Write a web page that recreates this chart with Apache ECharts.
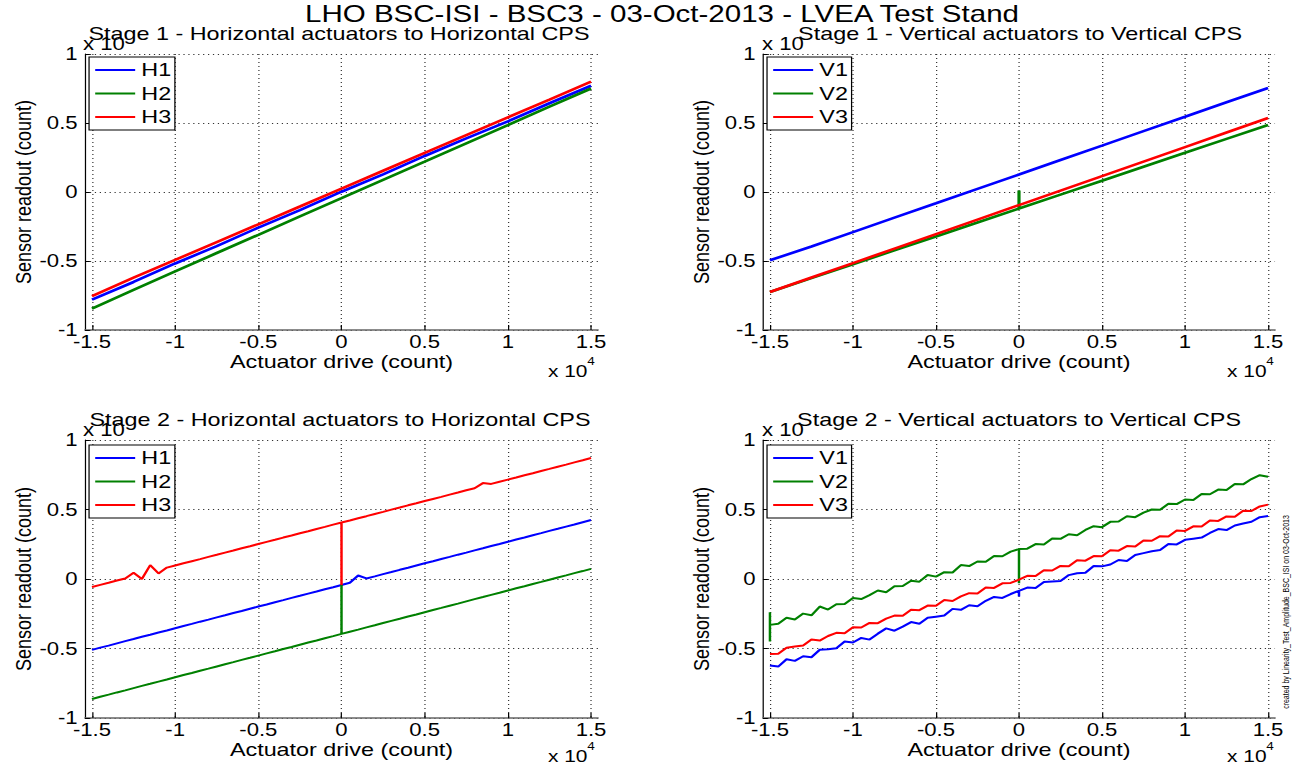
<!DOCTYPE html>
<html>
<head>
<meta charset="utf-8">
<script src="https://cdn.jsdelivr.net/npm/echarts@6/dist/echarts.min.js"></script>
<style>
html,body{margin:0;padding:0;background:#fff;overflow:hidden;}
#wrap{width:1295px;height:769px;overflow:hidden;}
#chart{width:1053px;height:769px;transform:scaleX(1.23);transform-origin:0 0;}
</style>
</head>
<body>
<div id="wrap"><div id="chart"></div></div>
<script>
// ---------- DATA ----------
const mainTitle = 'LHO BSC-ISI - BSC3 - 03-Oct-2013 - LVEA Test Stand';
const panelTitles = [
  'Stage 1 - Horizontal actuators to Horizontal CPS',
  'Stage 1 - Vertical actuators to Vertical CPS',
  'Stage 2 - Horizontal actuators to Horizontal CPS',
  'Stage 2 - Vertical actuators to Vertical CPS'
];
const xAxisName = 'Actuator drive (count)';
const yAxisName = 'Sensor readout (count)';
const creditText = 'created by Linearity_Test_Amplitude_BSC_ISI on 03-Oct-2013';

const xTickValues = [-15000, -10000, -5000, 0, 5000, 10000, 15000];
const xTickLabels = ['-1.5', '-1', '-0.5', '0', '0.5', '1', '1.5'];
const yTickLabels = {'-1': '-1', '-0.5': '-0.5', '0': '0', '0.5': '0.5', '1': '1'};

// drive grid for Stage 1 (step 2500)
const drive13 = [-15000, -12500, -10000, -7500, -5000, -2500, 0, 2500, 5000, 7500, 10000, 12500, 15000];
// drive grid for Stage 2 (step 500)
const drive61 = [-15000, -14500, -14000, -13500, -13000, -12500, -12000, -11500, -11000, -10500,
  -10000, -9500, -9000, -8500, -8000, -7500, -7000, -6500, -6000, -5500,
  -5000, -4500, -4000, -3500, -3000, -2500, -2000, -1500, -1000, -500,
  0, 500, 1000, 1500, 2000, 2500, 3000, 3500, 4000, 4500,
  5000, 5500, 6000, 6500, 7000, 7500, 8000, 8500, 9000, 9500,
  10000, 10500, 11000, 11500, 12000, 12500, 13000, 13500, 14000, 14500, 15000];

// Stage 1 horizontal
const s1H1 = [-0.780, -0.652, -0.518, -0.392, -0.258, -0.131, 0.002, 0.128, 0.261, 0.388, 0.512, 0.643, 0.770];
const s1H2 = [-0.845, -0.710, -0.575, -0.442, -0.310, -0.177, -0.045, 0.088, 0.220, 0.353, 0.485, 0.618, 0.750];
const s1H3 = [-0.755, -0.621, -0.492, -0.363, -0.234, -0.105, 0.025, 0.154, 0.283, 0.412, 0.541, 0.670, 0.800];
// Stage 1 vertical
const s1V1 = [-0.495, -0.395, -0.291, -0.186, -0.082, 0.023, 0.127, 0.232, 0.336, 0.441, 0.545, 0.650, 0.754];
const s1V2 = [-0.725, -0.624, -0.523, -0.423, -0.322, -0.221, -0.120, -0.019, 0.082, 0.183, 0.284, 0.385, 0.485];
const s1V3 = [-0.725, -0.620, -0.515, -0.410, -0.305, -0.200, -0.095, 0.010, 0.115, 0.220, 0.325, 0.431, 0.536];
const s1V2Spike = [[0, 0.01], [0, -0.12]];

// Stage 2 horizontal
const s2H1 = [-0.510, -0.494, -0.479, -0.463, -0.447, -0.432, -0.416, -0.401, -0.385, -0.370,
  -0.354, -0.338, -0.323, -0.307, -0.292, -0.276, -0.261, -0.245, -0.230, -0.214,
  -0.198, -0.183, -0.167, -0.152, -0.136, -0.121, -0.105, -0.090, -0.074, -0.059,
  -0.043, -0.027, 0.025, 0.004, 0.019, 0.035, 0.050, 0.066, 0.081, 0.097,
  0.113, 0.128, 0.144, 0.159, 0.175, 0.190, 0.206, 0.221, 0.237, 0.252,
  0.268, 0.284, 0.299, 0.315, 0.330, 0.346, 0.361, 0.377, 0.392, 0.408, 0.424];
const s2H2 = [-0.863, -0.847, -0.832, -0.816, -0.801, -0.785, -0.769, -0.754, -0.738, -0.723,
  -0.707, -0.691, -0.676, -0.660, -0.645, -0.629, -0.613, -0.598, -0.582, -0.567,
  -0.551, -0.535, -0.520, -0.504, -0.489, -0.473, -0.457, -0.442, -0.426, -0.411,
  -0.395, -0.379, -0.364, -0.348, -0.333, -0.317, -0.301, -0.286, -0.270, -0.255,
  -0.239, -0.223, -0.208, -0.192, -0.177, -0.161, -0.145, -0.130, -0.114, -0.099,
  -0.083, -0.067, -0.052, -0.036, -0.021, -0.005, 0.011, 0.026, 0.042, 0.057, 0.073];
const s2H3 = [-0.058, -0.042, -0.027, -0.011, 0.004, 0.045, 0.000, 0.100, 0.040, 0.082,
  0.097, 0.113, 0.128, 0.143, 0.159, 0.174, 0.190, 0.205, 0.221, 0.236,
  0.252, 0.267, 0.282, 0.298, 0.313, 0.329, 0.344, 0.360, 0.375, 0.391,
  0.406, 0.421, 0.437, 0.452, 0.468, 0.483, 0.499, 0.514, 0.530, 0.545,
  0.561, 0.576, 0.591, 0.607, 0.622, 0.638, 0.653, 0.690, 0.684, 0.700,
  0.715, 0.730, 0.746, 0.761, 0.777, 0.792, 0.808, 0.823, 0.839, 0.854, 0.870];
const s2H2Jump = [[0, -0.043], [0, -0.395]];
const s2H3Jump = [[0, -0.043], [0, 0.406]];

// Stage 2 vertical
const s2V1 = [-0.623, -0.630, -0.577, -0.589, -0.556, -0.563, -0.509, -0.506, -0.498, -0.450,
  -0.457, -0.424, -0.436, -0.393, -0.355, -0.372, -0.343, -0.310, -0.322, -0.279,
  -0.271, -0.263, -0.215, -0.222, -0.189, -0.196, -0.157, -0.129, -0.136, -0.108,
  -0.085, -0.062, -0.064, -0.021, -0.018, -0.015, 0.028, 0.041, 0.045, 0.093,
  0.091, 0.104, 0.137, 0.130, 0.173, 0.186, 0.199, 0.208, 0.251, 0.249,
  0.282, 0.290, 0.298, 0.331, 0.359, 0.352, 0.385, 0.399, 0.412, 0.445, 0.453];
const s2V2 = [-0.330, -0.322, -0.279, -0.292, -0.249, -0.261, -0.198, -0.220, -0.182, -0.180,
  -0.137, -0.144, -0.116, -0.083, -0.095, -0.053, -0.050, -0.012, -0.019, 0.029,
  0.017, 0.049, 0.047, 0.100, 0.093, 0.126, 0.124, 0.166, 0.164, 0.197,
  0.215, 0.218, 0.251, 0.248, 0.291, 0.289, 0.322, 0.315, 0.353, 0.380,
  0.373, 0.411, 0.414, 0.452, 0.445, 0.477, 0.500, 0.498, 0.541, 0.539,
  0.572, 0.569, 0.612, 0.610, 0.643, 0.641, 0.684, 0.681, 0.719, 0.747, 0.735];
const s2V3 = [-0.540, -0.537, -0.494, -0.486, -0.479, -0.436, -0.443, -0.410, -0.387, -0.390,
  -0.347, -0.349, -0.316, -0.318, -0.285, -0.263, -0.265, -0.222, -0.224, -0.191,
  -0.193, -0.151, -0.158, -0.125, -0.102, -0.104, -0.062, -0.064, -0.031, -0.028,
  -0.005, 0.023, 0.021, 0.063, 0.061, 0.094, 0.092, 0.135, 0.132, 0.165,
  0.163, 0.206, 0.204, 0.237, 0.234, 0.277, 0.275, 0.308, 0.306, 0.349,
  0.346, 0.379, 0.377, 0.420, 0.418, 0.450, 0.448, 0.491, 0.489, 0.522, 0.535];
const s2V1Spike = [[0, -0.125], [0, -0.085]];
const s2V2Jump = [[0, -0.03], [0, 0.215]];
const s2V2StartSpike = [[-15000, -0.45], [-15000, -0.24], [-15000, -0.33]];

// ---------- BUILD ----------
const BLUE = '#0000ff', GREEN = '#008000', RED = '#ff0000';
const FONT = '"Liberation Sans", Arial, Helvetica, sans-serif';

function buildPath(xs, ys, inserts) {
  const out = [];
  xs.forEach((x, i) => {
    out.push([x, ys[i]]);
    (inserts || []).forEach(ins => { if (ins[0] === i) ins[1].forEach(p => out.push(p)); });
  });
  return out;
}

// coordinates below are in the un-stretched space (page is scaled 1.23x horizontally)
const grids = [
  {left: 69.1, top: 54, width: 417.1, height: 276},
  {left: 620.3, top: 54, width: 416.3, height: 276},
  {left: 69.1, top: 440, width: 417.1, height: 278},
  {left: 620.3, top: 440, width: 416.3, height: 278}
];

const X_MIN = -15420, X_MAX = 15420;

const xAxes = grids.map((g, i) => ({
  type: 'value', gridIndex: i, min: X_MIN, max: X_MAX,
  name: xAxisName, nameLocation: 'middle', nameGap: 22,
  nameTextStyle: {fontSize: 19, color: '#000', fontFamily: FONT},
  axisLine: {show: true, onZero: false, lineStyle: {color: '#666', width: 1.5}},
  axisTick: {show: true, inside: true, length: 5, customValues: xTickValues, lineStyle: {color: '#000'}},
  axisLabel: {customValues: xTickValues, margin: 3, fontSize: 18, color: '#000', fontFamily: FONT,
    formatter: v => xTickLabels[xTickValues.indexOf(v)] ?? ''},
  splitLine: {show: true, lineStyle: {color: '#333', type: [1, 3], width: 1}}
}));

const yAxes = grids.map((g, i) => ({
  type: 'value', gridIndex: i, min: -1, max: 1, interval: 0.5,
  name: yAxisName, nameLocation: 'middle', nameGap: 41,
  nameTextStyle: {fontSize: 18, color: '#000', fontFamily: FONT},
  axisLine: {show: true, onZero: false, lineStyle: {color: '#000', width: 1}},
  axisTick: {show: true, inside: true, length: 4, lineStyle: {color: '#000'}},
  axisLabel: {margin: 6, fontSize: 18, color: '#000', fontFamily: FONT,
    formatter: v => yTickLabels[String(v)] ?? String(v)},
  splitLine: {show: true, lineStyle: {color: '#333', type: [1, 3], width: 1}}
}));

function line(name, color, idx, data, w) {
  return {name, type: 'line', xAxisIndex: idx, yAxisIndex: idx, data,
    symbol: 'none', showSymbol: false, smooth: false, animation: false,
    lineStyle: {color, width: w}, itemStyle: {color}};
}

const series = [
  line('H1', BLUE, 0, buildPath(drive13, s1H1), 2.6),
  line('H2', GREEN, 0, buildPath(drive13, s1H2), 2.6),
  line('H3', RED, 0, buildPath(drive13, s1H3), 2.6),
  line('V1', BLUE, 1, buildPath(drive13, s1V1), 2.6),
  line('V2', GREEN, 1, buildPath(drive13, s1V2, [[6, s1V2Spike]]), 2.6),
  line('V3', RED, 1, buildPath(drive13, s1V3), 2.6),
  line('H1', BLUE, 2, buildPath(drive61, s2H1), 2),
  line('H2', GREEN, 2, buildPath(drive61, s2H2, [[30, s2H2Jump]]), 2),
  line('H3', RED, 2, buildPath(drive61, s2H3, [[30, s2H3Jump]]), 2),
  line('V1', BLUE, 3, buildPath(drive61, s2V1, [[30, s2V1Spike]]), 2),
  line('V2', GREEN, 3, buildPath(drive61, s2V2, [[0, s2V2StartSpike], [30, s2V2Jump]]), 2),
  line('V3', RED, 3, buildPath(drive61, s2V3), 2)
];

function legendAt(left, top, names) {
  return {show: true, left, top, orient: 'vertical', data: names,
    backgroundColor: '#fff', borderColor: '#000', borderWidth: 1, borderRadius: 0,
    padding: [3, 3, 3, 5], itemWidth: 32.5, itemHeight: 2, itemGap: 3.5, icon: 'rect',
    selectedMode: false,
    textStyle: {fontSize: 19, lineHeight: 20, color: '#000', fontFamily: FONT}};
}

function txt(x, y, text, size, align, z) {
  return {type: 'text', x, y, silent: true, z: z || 100,
    style: {text, fill: '#000', font: size + 'px ' + FONT, textAlign: align || 'center', textVerticalAlign: 'middle'}};
}

const graphics = [
  txt(538.2, 14, mainTitle, 24),
  // y multipliers
  txt(67.5, 44, 'x 10', 18, 'left', 90),
  txt(619.5, 44, 'x 10', 18, 'left', 90),
  txt(67.5, 430, 'x 10', 18, 'left', 90),
  txt(619.5, 430, 'x 10', 18, 'left', 90),
  // panel titles
  txt(275.6, 34, panelTitles[0], 19),
  txt(829.3, 34, panelTitles[1], 19),
  txt(276.4, 420, panelTitles[2], 19),
  txt(828.5, 420, panelTitles[3], 19),
  // x multipliers
  txt(445.5, 371, 'x 10', 17, 'left'), txt(477.5, 361, '4', 11, 'left'),
  txt(997.6, 371, 'x 10', 17, 'left'), txt(1029.5, 361, '4', 11, 'left'),
  txt(445.5, 756, 'x 10', 17, 'left'), txt(477.5, 746, '4', 11, 'left'),
  txt(997.6, 756, 'x 10', 17, 'left'), txt(1029.5, 746, '4', 11, 'left'),
  // credit
  {type: 'text', x: 1045.5, y: 612, rotation: Math.PI / 2, silent: true, z: 100,
    style: {text: creditText, fill: '#000', font: '7px ' + FONT, textAlign: 'center', textVerticalAlign: 'middle'}}
];

const option = {
  backgroundColor: '#fff',
  animation: false,
  grid: grids,
  xAxis: xAxes,
  yAxis: yAxes,
  legend: [
    legendAt(72.4, 57, ['H1', 'H2', 'H3']),
    legendAt(623.6, 57, ['V1', 'V2', 'V3']),
    legendAt(72.4, 445, ['H1', 'H2', 'H3']),
    legendAt(623.6, 445, ['V1', 'V2', 'V3'])
  ],
  series,
  graphic: graphics
};

const chart = echarts.init(document.getElementById('chart'), null, {renderer: 'svg', width: 1053, height: 769});
chart.setOption(option);
</script>
</body>
</html>
